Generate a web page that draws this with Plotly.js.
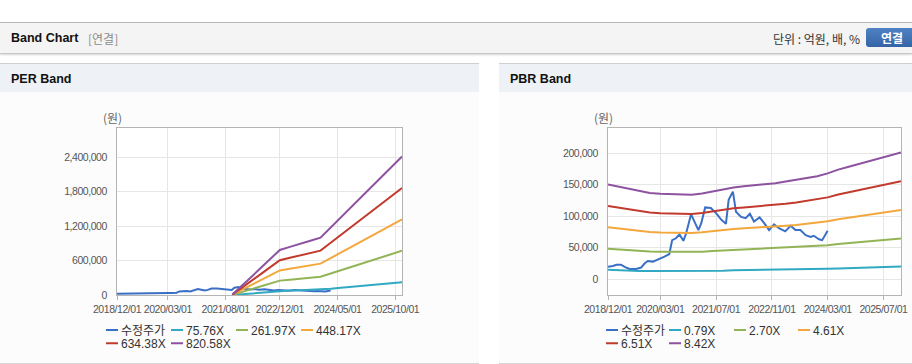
<!DOCTYPE html>
<html><head><meta charset="utf-8">
<script src="https://cdn.plot.ly/plotly-3.0.1.min.js"></script>
<style>
html,body{margin:0;padding:0;background:#fff;width:912px;height:364px;overflow:hidden;font-family:'Liberation Sans','Noto Sans CJK KR',sans-serif;}
#hdr{position:absolute;left:0;top:22px;width:912px;height:30px;background:#f4f4f4;border-top:1px solid #b8b8b8;border-bottom:1px solid #c6c6c6;box-shadow:0 1px 2px rgba(0,0,0,0.16);}
#hdr .t{position:absolute;left:11px;top:0;line-height:31px;font-weight:bold;font-size:12.5px;color:#111;}
#hdr .s{position:absolute;left:88px;top:0;line-height:31px;font-size:12px;color:#8c8c8c;font-family:'Noto Sans CJK KR','Liberation Sans',sans-serif;}
#hdr .u{position:absolute;right:52px;top:0;line-height:31px;font-size:12px;color:#333;font-family:'Noto Sans CJK KR','Liberation Sans',sans-serif;}
#hdr .b{position:absolute;left:866px;top:5px;width:52px;height:19px;line-height:19px;text-align:center;border-radius:3px;background:linear-gradient(#4f82c4,#3464a6);color:#fff;font-weight:bold;font-size:12px;font-family:'Noto Sans CJK KR',sans-serif;}
.panel{position:absolute;top:63px;height:299px;border-top:1px solid #cfcfcf;border-bottom:2px solid #d6d6d6;background:#fcfcfc;}
.panel .h{height:28px;line-height:30px;background:#eef2f7;padding-left:11px;font-weight:bold;font-size:12.5px;color:#111;}
.chart{position:absolute;top:29px;left:0;height:269px;}
.xtick text,.ytick text{letter-spacing:-0.45px;}
</style>
</head><body>
<div id="hdr"><span class="t">Band Chart</span><span class="s">[연결]</span><span class="u">단위 : 억원, 배, %</span><span class="b">연결</span></div>
<div class="panel" style="left:0;width:479px"><div class="h">PER Band</div><div id="per" class="chart" style="width:479px"></div></div>
<div class="panel" style="left:499px;width:413px"><div class="h">PBR Band</div><div id="pbr" class="chart" style="width:413px"></div></div>
<script>
// ---------- data ----------
var priceDates = ['2018-12-01','2019-01-13','2019-02-13','2019-03-25','2019-04-25','2019-06-07','2019-08-04','2019-09-16','2019-10-16','2019-11-13','2019-12-28','2020-01-25','2020-02-25','2020-04-07','2020-05-19','2020-06-13','2020-07-16','2020-08-16','2020-09-19','2020-10-13','2020-11-25','2020-12-25','2021-01-28','2021-02-22','2021-03-28','2021-05-16','2021-07-01','2021-08-13','2021-09-25','2021-10-19','2021-11-25','2021-12-22','2022-02-04','2022-03-16','2022-04-22','2022-05-28','2022-07-16','2022-08-25','2022-10-07','2022-11-19','2023-01-01','2023-02-25','2023-04-13','2023-05-25','2023-07-07','2023-08-22','2023-10-04','2023-11-01','2023-12-16','2024-01-13','2024-03-01'];
var priceValues = [20000,21000,23000,23000,19600,16400,16400,18500,25000,29000,28000,30000,33000,36000,40000,62000,65000,71000,61000,73000,103000,91000,78000,89000,114000,113000,105000,95000,88000,126000,139000,107000,99000,97000,104000,91500,98000,89000,78000,87000,81000,76000,85000,78000,78000,70000,67000,69000,63500,62000,77000];

var perBandDates = ['2021-10','2022-01','2022-04','2022-07','2022-10','2022-12','2023-03','2023-06','2023-09','2023-12','2024-03','2024-06','2024-09','2024-12','2025-03','2025-06','2025-09','2025-12'];
var perNames = ['75.76X','261.97X','448.17X','634.38X','820.58X'];
var per75 = [1000,15500,31000,46500,62000,72400,77300,81800,87100,92200,108500,124800,141100,157400,173600,189900,206200,222500];
var per262 = [2600,53700,107100,160800,214300,250200,267200,282900,301300,318800,375100,431500,487800,544100,600400,656800,713100,769400];
var per448 = [4500,91900,183300,275200,366600,428000,457100,484000,515400,545400,641800,738100,834500,930800,1027200,1123600,1219900,1316300];
var per634 = [6300,130000,259500,389500,518900,605800,647100,685100,729500,772000,908400,1044800,1181200,1317600,1454000,1590400,1726800,1863200];
var per821 = [8200,168200,335600,503800,671200,783700,837000,886200,943700,998600,1175100,1351500,1527900,1704300,1880800,2057200,2233600,2410000];
var perYTicks = [0,600000,1200000,1800000,2400000];
var perXTickVals = ['2018-12-01','2020-03-01','2021-08-01','2022-12-01','2024-05-01','2025-10-01'];
var perXTickText = ['2018/12/01','2020/03/01','2021/08/01','2022/12/01','2024/05/01','2025/10/01'];

var pbrBandDates = ['2018-12','2019-03','2019-06','2019-09','2019-12','2020-03','2020-06','2020-09','2020-12','2021-03','2021-06','2021-09','2021-12','2022-03','2022-06','2022-09','2022-12','2023-03','2023-06','2023-09','2023-12','2024-03','2024-06','2024-09','2024-12','2025-03','2025-06','2025-09','2025-12'];
var pbrNames = ['0.79X','2.70X','4.61X','6.51X','8.42X'];
var pbr079 = [15000,14200,13500,13200,13000,13000,13000,13000,13000,13000,13100,13300,14300,14500,14600,14700,14800,14900,15000,15300,16300,16600,17000,17400,17800,18300,18900,19500,20200];
var pbr270 = [48300,47100,45900,44700,43900,43500,43300,43100,43000,43600,44700,45500,46700,47300,47800,48400,48900,49700,50500,51500,52400,53900,55800,57200,58700,60100,61600,63000,64500];
var pbr461 = [82400,80500,78300,76400,75000,74200,73900,73600,73400,74500,76400,77700,79700,80800,81600,82700,83500,84900,86200,87900,89500,92000,95300,97700,100200,102700,105100,107600,110000];
var pbr651 = [116300,113600,110500,107800,105900,104700,104400,104000,103600,105100,107800,109800,112500,114000,115200,116700,117900,119800,121700,124100,126400,129900,134500,138000,141500,144900,148400,151900,155400];
var pbr842 = [150500,147000,143000,139500,137000,135500,135000,134500,134000,136000,139500,142000,145500,147500,149000,151000,152500,155000,157500,160500,163500,168000,174000,178500,183000,187500,192000,196500,201000];
var pbrYTicks = [0,50000,100000,150000,200000];
var pbrXTickVals = ['2018-12-01','2020-03-01','2021-07-01','2022-11-01','2024-03-01','2025-07-01'];
var pbrXTickText = ['2018/12/01','2020/03/01','2021/07/01','2022/11/01','2024/03/01','2025/07/01'];

var priceName = '수정주가';
var unitLabel = '(원)';

// ---------- styling ----------
var colors = ['#3a6fc6','#31a9c2','#92b456','#f3a73c','#c13a2d','#8d52a0'];
var tickFont = {family:"'Liberation Sans',sans-serif", size:10.5, color:'#555'};
var legFont = {family:"'Liberation Sans','Noto Sans CJK KR',sans-serif", size:12, color:'#333'};
var legId = ['legend','legend2','legend3','legend4','legend5','legend6'];

function line(x, y, name, i){
  return {type:'scatter', mode:'lines', x:x, y:y, name:name, legend:legId[i],
          line:{color:colors[i], width:2}, hoverinfo:'x+y+name'};
}

// textLeft: pixel x (div coords) where each legend entry's text starts
function layoutFor(l, w, r, yRange, yTicks, xVals, xText, textLeft){
  var plotW = w - l - r;
  var lay = {
    width:w, height:269, margin:{l:l, r:r, t:35, b:67, autoexpand:false},
    paper_bgcolor:'#fcfcfc', plot_bgcolor:'#ffffff',
    font:legFont, showlegend:true,
    xaxis:{type:'date', range:['2018-12-01','2025-12-01'], tickvals:xVals, ticktext:xText,
           tickfont:tickFont, tickangle:0, ticks:'outside', ticklen:4, tickcolor:'#b4b4b4',
           showgrid:true, gridcolor:'#e6e6e6', showline:true, mirror:true, linecolor:'#b4b4b4', linewidth:1, zeroline:false},
    yaxis:{range:yRange, tickvals:yTicks, tickformat:',', tickfont:tickFont, ticks:'',
           ticklabelstandoff:7, showgrid:true, gridcolor:'#e6e6e6', showline:true, mirror:true,
           linecolor:'#b4b4b4', linewidth:1, zeroline:false},
    annotations:[{xref:'paper', yref:'paper', x:0, y:1.06, xanchor:'center', yanchor:'middle', xshift:-5,
                  text:unitLabel, showarrow:false, font:{family:"'Noto Sans CJK KR',sans-serif", size:12, color:'#666'}}]
  };
  for (var i = 0; i < 6; i++) {
    var col = i % 4, row = i < 4 ? 0 : 1;
    lay[legId[i]] = {orientation:'h', x:(textLeft[col] - 40 - l) / plotW, xanchor:'left',
                     y:row === 0 ? -0.2096 : -0.2892, yanchor:'middle', font:legFont,
                     bgcolor:'rgba(0,0,0,0)', borderwidth:0};
  }
  return lay;
}

function shorten(gd){
  gd.querySelectorAll('.legendlines path').forEach(function(p){ p.setAttribute('d','M25,0h12'); });
}

var perData = [
  line(priceDates, priceValues, priceName, 0),
  line(perBandDates, per75, perNames[0], 1),
  line(perBandDates, per262, perNames[1], 2),
  line(perBandDates, per448, perNames[2], 3),
  line(perBandDates, per634, perNames[3], 4),
  line(perBandDates, per821, perNames[4], 5)
];
var pbrData = [
  line(priceDates, priceValues, priceName, 0),
  line(pbrBandDates, pbr079, pbrNames[0], 1),
  line(pbrBandDates, pbr270, pbrNames[1], 2),
  line(pbrBandDates, pbr461, pbrNames[2], 3),
  line(pbrBandDates, pbr651, pbrNames[3], 4),
  line(pbrBandDates, pbr842, pbrNames[4], 5)
];

var cfg = {displayModeBar:false, staticPlot:true};
Plotly.newPlot('per', perData, layoutFor(117, 479, 77, [0, 2906000], perYTicks, perXTickVals, perXTickText, [121,186,251,316]), cfg).then(shorten);
Plotly.newPlot('pbr', pbrData, layoutFor(109, 413, 11, [-25000, 240000], pbrYTicks, pbrXTickVals, pbrXTickText, [122,185,250,314]), cfg).then(shorten);
</script>
</body></html>
